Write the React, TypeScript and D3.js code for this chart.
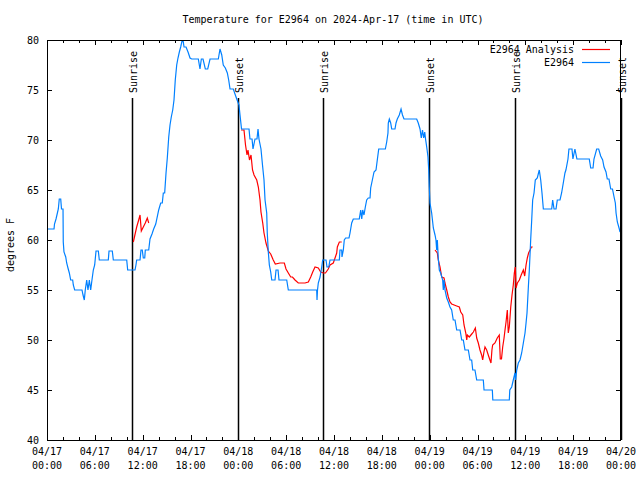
import React from "react";
import * as d3 from "d3";

const chartTitle = "Temperature for E2964 on 2024-Apr-17 (time in UTC)";
const yAxisLabel = "degrees F";
const yTickValues = [40, 45, 50, 55, 60, 65, 70, 75, 80];
const xTickHours = [0, 6, 12, 18, 24, 30, 36, 42, 48, 54, 60, 66, 72];
const xTickDates = ["04/17", "04/17", "04/17", "04/17", "04/18", "04/18", "04/18", "04/18", "04/19", "04/19", "04/19", "04/19", "04/20"];
const xTickTimes = ["00:00", "06:00", "12:00", "18:00", "00:00", "06:00", "12:00", "18:00", "00:00", "06:00", "12:00", "18:00", "00:00"];
const sunEventHours = [10.7, 23.92, 34.66, 47.96, 58.75, 72.0];
const sunEventLabels = ["Sunrise", "Sunset", "Sunrise", "Sunset", "Sunrise", "Sunset"];
const legendNames = ["E2964 Analysis", "E2964"];

// hours since 2024-04-17 00:00 UTC, degrees F
const observed: [number, number][] = [
  [0.0, 61.1], [0.88, 61.1], [0.94, 61.6], [1.13, 62.1], [1.42, 63.1], [1.54, 64.1], [1.72, 64.1], [1.82, 63.1],
  [2.01, 63.1], [2.04, 59.8], [2.13, 58.8], [2.35, 58.3], [2.47, 57.7], [2.63, 57.2], [2.8, 56.7], [2.97, 56.0],
  [3.22, 56.0], [3.3, 55.5], [3.47, 55.0], [4.39, 55.0], [4.52, 54.5], [4.68, 54.0], [4.8, 55.0], [4.98, 56.0],
  [5.14, 55.0], [5.31, 56.0], [5.48, 55.0], [5.64, 56.0], [5.81, 57.0], [5.98, 57.5], [6.15, 58.9], [6.44, 58.9],
  [6.56, 58.0], [7.69, 58.0], [7.78, 58.9], [8.19, 58.9], [8.32, 58.0], [10.0, 58.0], [10.12, 57.0], [11.04, 57.0],
  [11.16, 57.5], [11.25, 58.0], [11.67, 58.0], [11.79, 59.0], [11.95, 59.0], [12.08, 58.2], [12.26, 58.2], [12.33, 59.0],
  [12.76, 59.0], [12.92, 60.1], [13.17, 60.6], [13.38, 61.1], [13.64, 61.6], [14.01, 63.0], [14.26, 63.7], [14.46, 63.7],
  [14.59, 64.7], [14.76, 64.7], [14.93, 66.7], [15.09, 68.2], [15.27, 70.3], [15.43, 71.5], [15.59, 72.3], [15.77, 73.0],
  [15.93, 74.0], [16.09, 76.0], [16.27, 77.5], [16.43, 78.2], [16.6, 78.8], [16.77, 79.3], [17.02, 80.2], [17.19, 79.3],
  [17.44, 79.3], [17.69, 78.8], [17.94, 78.2], [18.15, 78.1], [18.98, 78.1], [19.19, 77.1], [19.36, 78.1], [19.57, 78.1],
  [19.86, 77.1], [20.16, 77.1], [20.45, 78.1], [21.49, 78.1], [21.7, 79.1], [21.92, 78.5], [22.11, 77.5], [22.37, 77.2],
  [22.62, 76.7], [22.79, 76.0], [22.96, 75.1], [23.37, 75.1], [23.58, 74.6], [23.8, 74.1], [24.08, 73.5], [24.21, 72.5],
  [24.4, 71.1], [25.34, 71.1], [25.46, 70.1], [25.72, 70.1], [25.84, 69.1], [26.09, 70.1], [26.34, 70.1], [26.47, 71.1],
  [26.59, 70.1], [26.84, 69.1], [27.03, 67.5], [27.22, 66.0], [27.35, 64.0], [27.56, 62.7], [27.63, 60.7], [27.76, 58.8],
  [27.89, 57.5], [28.06, 56.8], [28.19, 56.0], [28.6, 56.0], [28.73, 57.0], [28.98, 57.0], [29.1, 56.0], [30.07, 56.0],
  [30.27, 55.0], [33.83, 55.0], [33.87, 54.0], [33.93, 55.0], [34.03, 55.7], [34.25, 56.3], [34.46, 57.3], [34.58, 58.0],
  [35.0, 58.0], [35.12, 57.3], [35.34, 57.3], [35.5, 58.0], [36.67, 58.0], [36.75, 59.0], [36.97, 59.0], [37.0, 58.3],
  [37.17, 59.0], [37.29, 60.0], [37.46, 60.2], [37.88, 60.2], [38.01, 60.7], [38.22, 61.7], [38.42, 62.1], [39.17, 62.1],
  [39.35, 63.0], [39.48, 62.1], [39.6, 63.0], [39.76, 62.5], [39.93, 63.3], [40.1, 64.0], [40.3, 64.2], [40.52, 64.2],
  [40.6, 65.2], [40.81, 66.0], [41.02, 66.8], [41.27, 67.0], [41.43, 68.0], [41.61, 69.1], [42.44, 69.1], [42.61, 69.8],
  [42.77, 70.7], [42.81, 71.7], [42.94, 72.1], [43.11, 71.7], [43.24, 71.1], [43.65, 71.1], [43.78, 71.7], [43.94, 72.1],
  [44.19, 72.5], [44.41, 73.1], [44.59, 72.5], [44.78, 72.1], [46.37, 72.1], [46.57, 71.7], [46.79, 71.1], [46.95, 70.2],
  [47.1, 71.0], [47.25, 70.2], [47.38, 70.8], [47.5, 70.0], [47.63, 69.3], [47.79, 68.3], [47.88, 67.0], [47.95, 65.3],
  [48.04, 63.7], [48.25, 62.7], [48.46, 61.2], [48.67, 60.5], [48.79, 60.0], [48.88, 59.0], [48.96, 60.0], [49.08, 58.2],
  [49.21, 57.0], [49.38, 56.7], [49.63, 56.0], [49.71, 55.0], [49.8, 56.0], [49.92, 55.0], [50.14, 54.2], [50.34, 53.8],
  [50.55, 53.3], [50.76, 53.0], [50.96, 52.0], [51.18, 52.0], [51.39, 51.0], [51.81, 51.0], [52.02, 50.0], [52.22, 50.0],
  [52.43, 49.0], [52.85, 49.0], [53.06, 48.0], [53.27, 48.0], [53.4, 47.0], [53.68, 47.0], [53.9, 46.0], [54.73, 46.0],
  [54.82, 45.0], [55.86, 45.0], [55.92, 44.0], [57.99, 44.0], [58.05, 45.0], [58.29, 45.3], [58.49, 46.0], [58.7, 46.7],
  [58.79, 46.0], [58.92, 47.0], [59.12, 47.7], [59.33, 48.0], [59.54, 48.7], [59.75, 49.7], [59.96, 50.7], [60.09, 51.7],
  [60.21, 52.7], [60.38, 55.3], [60.5, 57.0], [60.67, 60.0], [60.8, 62.0], [60.92, 64.0], [61.09, 64.7], [61.25, 66.0],
  [61.5, 66.2], [61.75, 67.0], [61.93, 66.0], [62.09, 64.7], [62.26, 63.1], [63.31, 63.1], [63.43, 64.0], [63.6, 63.1],
  [63.85, 63.1], [64.01, 64.0], [64.35, 64.0], [64.55, 64.7], [64.76, 65.7], [64.97, 66.7], [65.09, 67.0], [65.35, 68.1],
  [65.47, 69.1], [65.85, 69.1], [65.97, 68.1], [66.22, 69.1], [66.47, 68.1], [68.02, 68.1], [68.2, 67.2], [68.49, 67.2],
  [68.61, 68.1], [68.95, 69.1], [69.2, 69.1], [69.45, 68.4], [69.7, 68.0], [69.87, 67.3], [70.12, 66.8], [70.28, 66.1],
  [70.49, 66.1], [70.71, 65.1], [70.93, 65.1], [71.13, 64.3], [71.29, 63.7], [71.38, 62.7], [71.54, 61.8], [71.79, 61.1],
  [71.88, 60.8],
];

const analysisDay1: [number, number][] = [
  [10.83, 59.8], [11.08, 60.7], [11.25, 61.3], [11.5, 62.0], [11.67, 62.5], [11.83, 60.9], [12.08, 61.3], [12.33, 61.7],
  [12.58, 62.2], [12.76, 61.7],
];
const analysisDay2: [number, number][] = [
  [24.34, 71.0], [24.71, 71.0], [24.9, 69.5], [25.09, 68.5], [25.21, 69.0], [25.4, 68.0], [25.59, 68.5], [25.78, 67.0],
  [25.97, 66.5], [26.31, 66.0], [26.51, 65.3], [26.72, 64.0], [26.84, 62.8], [27.06, 61.7], [27.22, 60.7], [27.47, 59.7],
  [27.76, 58.9], [28.06, 58.6], [28.38, 58.0], [28.64, 57.6], [29.23, 57.7], [29.77, 57.7], [29.98, 57.1], [30.27, 56.7],
  [30.57, 56.3], [30.79, 56.3], [31.11, 56.0], [31.52, 55.7], [32.36, 55.7], [32.78, 55.8], [33.08, 56.3], [33.33, 56.8],
  [33.62, 57.3], [34.03, 57.2], [34.33, 56.8], [34.66, 56.7], [34.93, 56.7], [35.28, 57.1], [35.5, 57.5], [35.91, 57.7],
  [36.13, 58.2], [36.34, 58.7], [36.42, 59.3], [36.67, 59.8], [36.97, 59.8],
];
const analysisDay3: [number, number][] = [
  [48.67, 59.0], [48.96, 58.7], [49.08, 58.0], [49.3, 57.3], [49.51, 56.3], [49.8, 56.2], [49.92, 55.7], [50.14, 55.0],
  [50.34, 54.3], [50.55, 53.8], [50.76, 53.6], [51.39, 53.4], [51.72, 53.3], [51.9, 52.8], [52.15, 52.5], [52.31, 51.5],
  [52.53, 50.7], [52.65, 50.0], [52.73, 50.5], [52.97, 50.3], [53.28, 50.6], [53.48, 50.8], [53.73, 51.2], [53.9, 50.2],
  [54.1, 49.7], [54.31, 49.0], [54.52, 48.5], [54.65, 48.0], [54.81, 48.8], [54.94, 49.3], [55.15, 49.0], [55.35, 48.5],
  [55.56, 48.0], [55.69, 47.7], [55.81, 49.0], [55.9, 49.5], [56.19, 49.7], [56.48, 50.2], [56.73, 50.5], [56.86, 48.1],
  [57.01, 48.1], [57.16, 49.3], [57.33, 50.2], [57.45, 51.0], [57.58, 51.8], [57.74, 53.0], [57.86, 50.7], [57.99, 51.3],
  [58.17, 53.3], [58.33, 54.5], [58.49, 55.5], [58.62, 56.7], [58.74, 57.3], [58.83, 55.2], [59.0, 55.7], [59.25, 56.0],
  [59.48, 56.5], [59.75, 57.0], [59.92, 56.4], [60.09, 57.5], [60.25, 58.2], [60.41, 58.7], [60.59, 59.0], [60.75, 59.3],
  [60.92, 59.3],
];
const analysisSegments = [analysisDay1, analysisDay2, analysisDay3];

const W = 640;
const H = 480;
const M = { left: 47, right: 19, top: 40, bottom: 40 };
const FONT = "'DejaVu Sans Mono', 'Liberation Mono', monospace";
const RED = "#ff0000";
const BLUE = "#0080ff";

export default function App() {
  const x = d3.scaleLinear().domain([0, 72]).range([M.left, W - M.right]);
  const y = d3.scaleLinear().domain([40, 80]).range([H - M.bottom, M.top]);
  const line = d3
    .line<[number, number]>()
    .x((d) => x(d[0]))
    .y((d) => y(d[1]));
  const minorTicks = d3.range(0, 73, 2);
  const x0 = M.left;
  const x1 = W - M.right;
  const y0 = H - M.bottom;
  const y1 = M.top;

  return (
    <svg
      width={W}
      height={H}
      style={{ position: "absolute", left: 0, top: 0, background: "#fff" }}
      fontFamily={FONT}
      fontSize={10}
    >
      <rect x={0} y={0} width={W} height={H} fill="#fff" />
      <defs>
        <clipPath id="plotclip">
          <rect x={x0} y={y1} width={x1 - x0} height={y0 - y1} />
        </clipPath>
      </defs>
      <text x={W / 2 + 13} y={23} textAnchor="middle" fill="#000">
        {chartTitle}
      </text>
      {minorTicks.map((h) => {
        const len = h % 6 === 0 ? 5 : 3;
        return (
          <g key={"xt" + h} stroke="#000" strokeWidth={1}>
            <line x1={Math.round(x(h)) + 0.5} x2={Math.round(x(h)) + 0.5} y1={y0} y2={y0 - len} />
            <line x1={Math.round(x(h)) + 0.5} x2={Math.round(x(h)) + 0.5} y1={y1} y2={y1 + len} />
          </g>
        );
      })}
      {yTickValues.map((v) => (
        <g key={"yt" + v}>
          <line x1={x0} x2={x0 + 5} y1={Math.round(y(v)) + 0.5} y2={Math.round(y(v)) + 0.5} stroke="#000" />
          <line x1={x1 - 5} x2={x1} y1={Math.round(y(v)) + 0.5} y2={Math.round(y(v)) + 0.5} stroke="#000" />
          <text x={x0 - 8} y={y(v) + 4} textAnchor="end" fill="#000">
            {v}
          </text>
        </g>
      ))}
      {xTickHours.map((h, i) => (
        <g key={"xl" + h}>
          <text x={x(h)} y={455} textAnchor="middle" fill="#000">
            {xTickDates[i]}
          </text>
          <text x={x(h)} y={469} textAnchor="middle" fill="#000">
            {xTickTimes[i]}
          </text>
        </g>
      ))}
      <text
        transform={`translate(14, ${(y0 + y1) / 2 + 5}) rotate(-90)`}
        textAnchor="middle"
        fill="#000"
      >
        {yAxisLabel}
      </text>
      {sunEventHours.map((h, i) => (
        <g key={"sun" + i}>
          <line
            x1={Math.round(x(h)) + 0.5}
            x2={Math.round(x(h)) + 0.5}
            y1={98}
            y2={y0}
            stroke="#000"
            strokeWidth={1.5}
          />
          <text
            transform={`translate(${x(h) + 5}, 93) rotate(-90)`}
            textAnchor="start"
            fill="#000"
          >
            {sunEventLabels[i]}
          </text>
        </g>
      ))}
      <g clipPath="url(#plotclip)" fill="none">
        {analysisSegments.map((seg, i) => (
          <path key={"a" + i} d={line(seg) || ""} stroke={RED} strokeWidth={1.2} />
        ))}
        <path d={line(observed) || ""} stroke={BLUE} strokeWidth={1.2} />
      </g>
      <text x={574} y={53} textAnchor="end" fill="#000">
        {legendNames[0]}
      </text>
      <line x1={582} x2={610} y1={49.5} y2={49.5} stroke={RED} strokeWidth={1.2} />
      <text x={574} y={66} textAnchor="end" fill="#000">
        {legendNames[1]}
      </text>
      <line x1={582} x2={610} y1={62.5} y2={62.5} stroke={BLUE} strokeWidth={1.2} />
      <rect x={x0 + 0.5} y={y1 + 0.5} width={x1 - x0 - 1} height={y0 - y1} fill="none" stroke="#000" strokeWidth={1} />
    </svg>
  );
}
